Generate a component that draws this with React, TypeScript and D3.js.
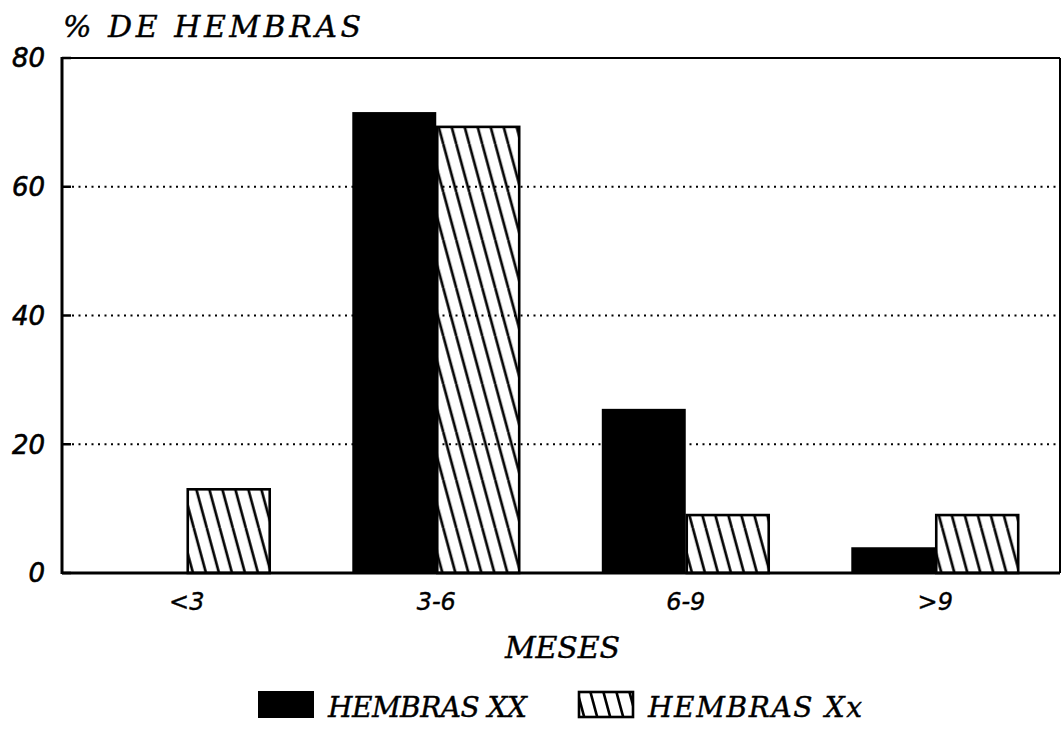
import React from "react";
import * as d3 from "d3";

const categories = ["<3", "3-6", "6-9", ">9"];
const seriesNames = ["HEMBRAS XX", "HEMBRAS Xx"];
const hembrasXX = [0, 71.6, 25.5, 4];
const hembrasXx = [13, 69.3, 9, 9];
const yTicks = [0, 20, 40, 60, 80];

const W = 1063;
const H = 729;
const M = { left: 62, right: 1060, top: 58, bottom: 573 };

export default function App() {
  const x0 = d3
    .scaleBand<string>()
    .domain(categories)
    .range([M.left, M.right])
    .paddingInner(0.327)
    .paddingOuter(0.1635);
  const x1 = d3.scaleBand<string>().domain(seriesNames).range([0, x0.bandwidth()]).padding(0);
  const y = d3.scaleLinear().domain([0, 80]).range([M.bottom, M.top]);

  const series = [hembrasXX, hembrasXx];
  const numFont = "'DejaVu Sans', 'Liberation Sans', sans-serif";
  const serifFont = "'DejaVu Serif', 'Liberation Serif', serif";

  return (
    <svg
      width={W}
      height={H}
      style={{ position: "absolute", left: 0, top: 0, background: "#fff" }}
    >
      <defs>
        <pattern id="hatch" patternUnits="userSpaceOnUse" width={13} height={48}>
          {[-13, 0, 13].map((o) => (
            <line
              key={o}
              x1={o}
              y1={0}
              x2={o + 13}
              y2={48}
              stroke="#000"
              strokeWidth={2.6}
            />
          ))}
        </pattern>
      </defs>
      <rect x={0} y={0} width={W} height={H} fill="#fff" />

      {/* gridlines */}
      {yTicks
        .filter((t) => t > 0 && t < 80)
        .map((t) => (
          <line
            key={t}
            x1={M.left + 10}
            x2={M.right}
            y1={y(t)}
            y2={y(t)}
            stroke="#000"
            strokeWidth={2}
            strokeDasharray="2 4.5"
          />
        ))}

      {/* bars */}
      {categories.map((c, i) => (
        <g key={c} transform={`translate(${x0(c)},0)`}>
          {series.map((s, k) => {
            const v = s[i];
            if (v <= 0) return null;
            const bx = x1(seriesNames[k])!;
            const bw = x1.bandwidth();
            return k === 0 ? (
              <rect key={k} x={bx} y={y(v)} width={bw} height={y(0) - y(v)} fill="#000" />
            ) : (
              <rect
                key={k}
                x={bx + 1}
                y={y(v)}
                width={bw - 2}
                height={y(0) - y(v)}
                fill="url(#hatch)"
                stroke="#000"
                strokeWidth={2.6}
              />
            );
          })}
        </g>
      ))}

      {/* frame */}
      <line x1={M.left} x2={M.right} y1={M.top} y2={M.top} stroke="#000" strokeWidth={2} />
      <line x1={M.right} x2={M.right} y1={M.top} y2={M.bottom} stroke="#000" strokeWidth={2} />
      <line x1={M.left} x2={M.right} y1={M.bottom} y2={M.bottom} stroke="#000" strokeWidth={3} />
      <line x1={M.left} x2={M.left} y1={M.top - 1} y2={M.bottom + 1} stroke="#000" strokeWidth={3} />

      {/* y ticks */}
      {yTicks.map((t) => (
        <g key={t}>
          <line x1={M.left} x2={M.left + 9} y1={y(t)} y2={y(t)} stroke="#000" strokeWidth={2.5} />
          <text
            x={45}
            y={y(t)}
            dy="0.36em"
            textAnchor="end"
            fontFamily={numFont}
            fontStyle="italic"
            fontSize={26}
            stroke="#000"
            strokeWidth={0.6}
            fill="#000"
          >
            {t}
          </text>
        </g>
      ))}

      {/* x labels */}
      {categories.map((c) => (
        <text
          key={c}
          x={x0(c)! + x0.bandwidth() / 2}
          y={610}
          textAnchor="middle"
          fontFamily={numFont}
          fontStyle="italic"
          fontSize={24}
          stroke="#000"
          strokeWidth={0.4}
          fill="#000"
        >
          {c}
        </text>
      ))}

      {/* titles */}
      <text
        x={63}
        y={37}
        fontFamily={serifFont}
        fontStyle="italic"
        fontSize={30}
        textLength={298}
        lengthAdjust="spacing"
        stroke="#000"
        strokeWidth={0.4}
        fill="#000"
      >
        % DE HEMBRAS
      </text>
      <text
        x={505}
        y={658}
        fontFamily={serifFont}
        fontStyle="italic"
        fontSize={30}
        textLength={115}
        lengthAdjust="spacing"
        stroke="#000"
        strokeWidth={0.4}
        fill="#000"
      >
        MESES
      </text>

      {/* legend */}
      <rect x={258} y={691} width={56} height={27} fill="#000" />
      <text
        x={328}
        y={717}
        fontFamily={serifFont}
        fontStyle="italic"
        fontSize={28}
        textLength={199}
        lengthAdjust="spacing"
        stroke="#000"
        strokeWidth={0.4}
        fill="#000"
      >
        {seriesNames[0]}
      </text>
      <rect
        x={579}
        y={692}
        width={54}
        height={25}
        fill="url(#hatch)"
        stroke="#000"
        strokeWidth={2.6}
      />
      <text
        x={648}
        y={717}
        fontFamily={serifFont}
        fontStyle="italic"
        fontSize={28}
        textLength={214}
        lengthAdjust="spacing"
        stroke="#000"
        strokeWidth={0.4}
        fill="#000"
      >
        {seriesNames[1]}
      </text>
    </svg>
  );
}
